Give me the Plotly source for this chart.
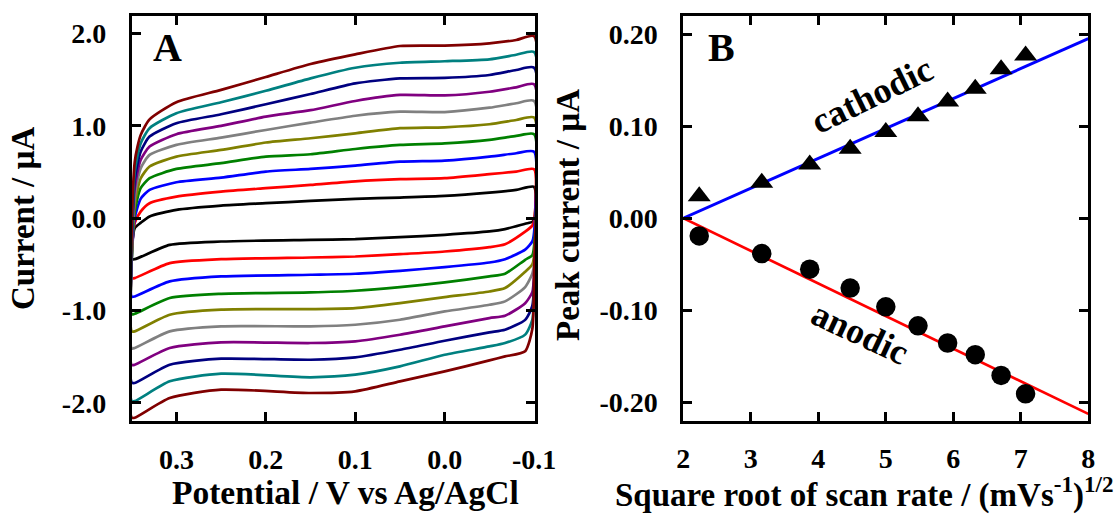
import plotly.graph_objects as go

# ---------------- Panel A: cyclic voltammograms ----------------
cv_names = ["5 mV/s", "10 mV/s", "15 mV/s", "20 mV/s", "25 mV/s",
            "30 mV/s", "35 mV/s", "40 mV/s", "45 mV/s", "50 mV/s"]
cv_colors = ["#000000", "#FF0000", "#0000FF", "#008000", "#808000",
             "#808080", "#800080", "#000080", "#008080", "#800000"]

# forward (upper, positive current) branch potentials, V
pot_upper = [0.35, 0.3466, 0.34, 0.33, 0.30, 0.25, 0.20, 0.15, 0.10, 0.05, 0.0, -0.05, -0.08, -0.1]
cur_upper = [
    [-0.44, -0.107, -0.05, 0.02, 0.091, 0.137, 0.163, 0.188, 0.21, 0.224, 0.242, 0.278, 0.307, 0.34],
    [-0.65, -0.05, 0.072, 0.163, 0.235, 0.289, 0.326, 0.361, 0.40, 0.423, 0.434, 0.477, 0.505, 0.53],
    [-0.85, 0.0, 0.21, 0.307, 0.39, 0.44, 0.505, 0.534, 0.57, 0.613, 0.624, 0.667, 0.704, 0.72],
    [-1.04, 0.072, 0.325, 0.434, 0.534, 0.596, 0.667, 0.693, 0.75, 0.794, 0.81, 0.848, 0.891, 0.91],
    [-1.225, 0.145, 0.43, 0.56, 0.667, 0.74, 0.82, 0.866, 0.92, 0.975, 0.985, 1.018, 1.064, 1.09],
    [-1.41, 0.235, 0.54, 0.686, 0.794, 0.873, 0.956, 1.035, 1.11, 1.154, 1.15, 1.197, 1.245, 1.27],
    [-1.59, 0.326, 0.63, 0.776, 0.91, 1.0, 1.10, 1.17, 1.27, 1.335, 1.33, 1.37, 1.418, 1.45],
    [-1.78, 0.415, 0.72, 0.884, 1.029, 1.126, 1.234, 1.345, 1.46, 1.515, 1.52, 1.551, 1.605, 1.63],
    [-1.98, 0.505, 0.81, 0.975, 1.137, 1.256, 1.38, 1.515, 1.63, 1.684, 1.70, 1.721, 1.77, 1.80],
    [-2.16, 0.61, 0.90, 1.07, 1.256, 1.39, 1.53, 1.67, 1.775, 1.865, 1.87, 1.894, 1.93, 1.97],
]

# reverse (lower, negative current) branch potentials, V
pot_lower = [-0.1, -0.098, -0.09, -0.0675, -0.05, 0.0, 0.05, 0.10, 0.15, 0.25, 0.3075, 0.3466, 0.35]
cur_lower = [
    [-0.02, -0.04, -0.06, -0.118, -0.143, -0.179, -0.205, -0.226, -0.234, -0.252, -0.288, -0.443, -0.44],
    [-0.03, -0.08, -0.144, -0.281, -0.313, -0.36, -0.389, -0.414, -0.425, -0.443, -0.486, -0.648, -0.65],
    [-0.15, -0.25, -0.34, -0.443, -0.479, -0.529, -0.569, -0.601, -0.612, -0.63, -0.684, -0.847, -0.85],
    [-0.3, -0.4, -0.45, -0.601, -0.63, -0.695, -0.746, -0.785, -0.803, -0.818, -0.864, -1.034, -1.04],
    [-0.4, -0.5, -0.58, -0.756, -0.793, -0.854, -0.919, -0.973, -0.984, -0.99, -1.045, -1.225, -1.225],
    [-0.5, -0.6, -0.745, -0.9, -0.937, -1.009, -1.099, -1.153, -1.171, -1.17, -1.225, -1.405, -1.41],
    [-0.6, -0.8, -0.92, -1.056, -1.081, -1.171, -1.261, -1.333, -1.351, -1.344, -1.405, -1.586, -1.59],
    [-0.7, -0.95, -1.1, -1.207, -1.236, -1.326, -1.424, -1.506, -1.532, -1.521, -1.586, -1.784, -1.78],
    [-0.8, -1.1, -1.26, -1.351, -1.388, -1.478, -1.604, -1.694, -1.722, -1.683, -1.766, -1.98, -1.98],
    [-0.6, -1.2, -1.44, -1.496, -1.539, -1.658, -1.766, -1.874, -1.892, -1.856, -1.946, -2.16, -2.16],
]

a_xticks = [0.3, 0.2, 0.1, 0.0, -0.1]
a_xticktext = ["0.3", "0.2", "0.1", "0.0", "-0.1"]
a_yticks = [-2.0, -1.0, 0.0, 1.0, 2.0]
a_yticktext = ["-2.0", "-1.0", "0.0", "1.0", "2.0"]

# ---------------- Panel B: peak current vs sqrt(scan rate) ----------------
sqrt_rate = [2.236, 3.162, 3.873, 4.472, 5.0, 5.477, 5.916, 6.325, 6.708, 7.071]
cathodic_peak = [0.024, 0.0387, 0.0586, 0.0756, 0.0937, 0.111, 0.127, 0.141, 0.162, 0.177]
anodic_peak = [-0.0192, -0.0384, -0.0554, -0.076, -0.0963, -0.117, -0.1357, -0.1484, -0.171, -0.191]
fit_x = [2.0, 8.0]
cathodic_fit = [0.0, 0.1954]
anodic_fit = [0.0, -0.2128]

b_xticks = [2, 3, 4, 5, 6, 7, 8]
b_xticktext = ["2", "3", "4", "5", "6", "7", "8"]
b_yticks = [-0.2, -0.1, 0.0, 0.1, 0.2]
b_yticktext = ["-0.20", "-0.10", "0.00", "0.10", "0.20"]

# ---------------- figure ----------------
W, H = 1118, 526
FONT = "Liberation Serif"

fig = go.Figure()

for name, col, up, lo in zip(cv_names, cv_colors, cur_upper, cur_lower):
    fig.add_trace(go.Scatter(
        x=pot_upper + pot_lower, y=up + lo, mode="lines", name=name,
        line=dict(color=col, width=2.7, shape="spline", smoothing=0.6),
        xaxis="x", yaxis="y", showlegend=False))

fig.add_trace(go.Scatter(x=fit_x, y=cathodic_fit, mode="lines",
                         line=dict(color="#0000FF", width=3), xaxis="x2", yaxis="y2", showlegend=False))
fig.add_trace(go.Scatter(x=fit_x, y=anodic_fit, mode="lines",
                         line=dict(color="#FF0000", width=2.7), xaxis="x2", yaxis="y2", showlegend=False))
fig.add_trace(go.Scatter(x=sqrt_rate, y=cathodic_peak, mode="markers", name="cathodic",
                         marker=dict(symbol="triangle-up", size=20, color="black"),
                         xaxis="x2", yaxis="y2", showlegend=False))
fig.add_trace(go.Scatter(x=sqrt_rate, y=anodic_peak, mode="markers", name="anodic",
                         marker=dict(symbol="circle", size=19.5, color="black"),
                         xaxis="x2", yaxis="y2", showlegend=False))

tickfont = dict(family=FONT, size=28, color="black", weight="bold")
axis_common = dict(showline=True, linecolor="black", linewidth=2.8, mirror="ticks",
                   ticks="inside", ticklen=9, tickwidth=2.6, tickcolor="black",
                   showgrid=False, zeroline=False, tickfont=tickfont, tickmode="array",
                   automargin=False)

ydom = [1 - 420.5 / H, 1 - 16 / H]
fig.update_layout(
    width=W, height=H, margin=dict(l=0, r=0, t=0, b=0, pad=0), autosize=False,
    paper_bgcolor="white", plot_bgcolor="white",
    xaxis=dict(domain=[131.7 / W, 535 / W], range=[0.35, -0.101],
               tickvals=a_xticks, ticktext=a_xticktext, ticklabelstandoff=12, **axis_common),
    yaxis=dict(domain=ydom, range=[-2.19, 2.19], anchor="x",
               tickvals=a_yticks, ticktext=a_yticktext, ticklabelstandoff=17, **axis_common),
    xaxis2=dict(domain=[683.3 / W, 1088.3 / W], range=[2, 8], anchor="y2",
                tickvals=b_xticks, ticktext=b_xticktext, ticklabelstandoff=11, **axis_common),
    yaxis2=dict(domain=ydom, range=[-0.22, 0.22], anchor="x2",
                tickvals=b_yticks, ticktext=b_yticktext, ticklabelstandoff=17, **axis_common),
)

def px_ann(text, x, y, size, angle=0, yanchor="middle"):
    fig.add_annotation(text=text, x=x / W, y=1 - y / H, xref="paper", yref="paper",
                       showarrow=False, textangle=angle, xanchor="center", yanchor=yanchor,
                       font=dict(family=FONT, size=size, color="black", weight="bold"))

px_ann("Current / µA", 23, 218, 33, -90)
px_ann("Potential / V vs Ag/AgCl", 345, 512.5, 33.5, 0, "bottom")
px_ann("Peak current / µA", 568, 215, 33, -90)
px_ann("Square root of scan rate / (mVs<sup>-1</sup>)<sup>1/2</sup>", 864, 516, 33, 0, "bottom")
px_ann("A", 167.5, 47, 40)
px_ann("B", 721.7, 47, 40)

fig.add_annotation(text="cathodic", x=4.80, y=0.134, xref="x2", yref="y2", showarrow=False,
                   textangle=-26, font=dict(family=FONT, size=36, color="black", weight="bold"))
fig.add_annotation(text="anodic", x=4.62, y=-0.125, xref="x2", yref="y2", showarrow=False,
                   textangle=25, font=dict(family=FONT, size=36, color="black", weight="bold"))

fig.write_html("out.html", config={"displayModeBar": False},
               post_script="document.body.style.margin='0px';document.body.style.overflow='hidden';")
